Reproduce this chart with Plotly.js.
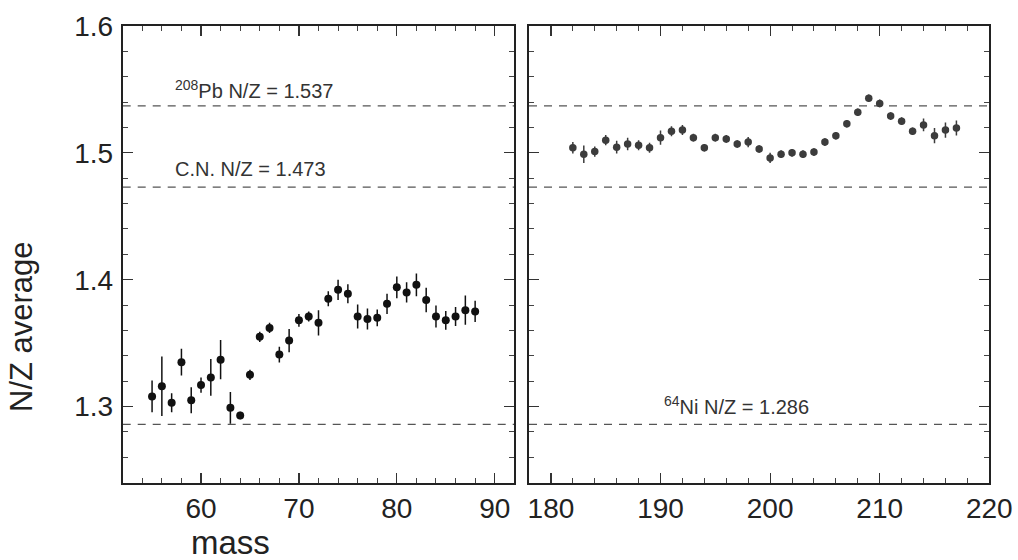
<!DOCTYPE html>
<html><head><meta charset="utf-8">
<script src="https://cdn.plot.ly/plotly-3.0.1.min.js"></script>
<style>html,body{margin:0;padding:0;background:#fff}#chart{width:1018px;height:560px}</style>
</head><body><div id="chart"></div><script>
// Light fragments (left panel)
const lightMass = [55,56,57,58,59,60,61,62,63,64,65,66,67,68,69,70,71,72,73,74,75,76,77,78,79,80,81,82,83,84,85,86,87,88];
const lightNZ = [1.308,1.316,1.303,1.335,1.305,1.317,1.323,1.337,1.299,1.293,1.325,1.355,1.362,1.341,1.352,1.368,1.371,1.366,1.385,1.392,1.389,1.371,1.369,1.370,1.381,1.394,1.390,1.396,1.384,1.371,1.368,1.371,1.376,1.375];
const lightErr = [0.0125,0.0235,0.0075,0.0105,0.0103,0.006,0.0145,0.0154,0.0125,0.003,0.004,0.004,0.004,0.0062,0.0092,0.005,0.004,0.010,0.006,0.008,0.0075,0.0094,0.0083,0.0066,0.008,0.0086,0.008,0.009,0.0096,0.0086,0.0074,0.0074,0.0115,0.0084];
// Heavy fragments (right panel)
const heavyMass = [182,183,184,185,186,187,188,189,190,191,192,193,194,195,196,197,198,199,200,201,202,203,204,205,206,207,208,209,210,211,212,213,214,215,216,217];
const heavyNZ = [1.504,1.499,1.501,1.510,1.5045,1.507,1.506,1.504,1.512,1.517,1.518,1.512,1.504,1.512,1.511,1.507,1.5085,1.503,1.496,1.499,1.500,1.499,1.5006,1.5085,1.5135,1.523,1.532,1.543,1.539,1.529,1.525,1.517,1.522,1.5135,1.518,1.5196];
const heavyErr = [0.0046,0.0069,0.004,0.004,0.005,0.005,0.004,0.004,0.0057,0.004,0.004,0.003,0.003,0.003,0.003,0.003,0.004,0.003,0.004,0.003,0.003,0.003,0.003,0.003,0.003,0.003,0.003,0.003,0.003,0.003,0.003,0.003,0.005,0.006,0.006,0.006];
// Reference N/Z values
const refValues = [1.537, 1.473, 1.286];
const refLabels = ['<sup>208</sup>Pb N/Z = 1.537', 'C.N. N/Z = 1.473', '<sup>64</sup>Ni N/Z = 1.286'];
const xTitle = 'mass';
const yTitle = 'N/Z average';

const FONT = '"Liberation Sans", Arial, sans-serif';

const traces = [
  {x: lightMass, y: lightNZ, type: 'scatter', mode: 'markers', xaxis: 'x', yaxis: 'y',
   marker: {color: '#111', size: 8},
   error_y: {type: 'data', array: lightErr, visible: true, width: 0, thickness: 1.5, color: '#111'},
   showlegend: false, hoverinfo: 'x+y'},
  {x: heavyMass, y: heavyNZ, type: 'scatter', mode: 'markers', xaxis: 'x2', yaxis: 'y2',
   marker: {color: '#3c3c3c', size: 7.5},
   error_y: {type: 'data', array: heavyErr, visible: true, width: 0, thickness: 1.5, color: '#3c3c3c'},
   showlegend: false, hoverinfo: 'x+y'}
];

function axisBase() {
  return {
    showline: true, linecolor: '#222', linewidth: 2, mirror: 'allticks',
    ticks: 'inside', ticklen: 10, tickwidth: 1.2, tickcolor: '#333',
    showgrid: false, zeroline: false,
    tickfont: {family: FONT, size: 28, color: '#222'}
  };
}

const yDom = [1 - 482.7/560, 1 - 26/560];
const layout = {
  width: 1018, height: 560,
  margin: {l: 0, r: 0, t: 0, b: 0, pad: 0},
  paper_bgcolor: '#fff', plot_bgcolor: '#fff',
  font: {family: FONT, color: '#222'},
  xaxis: Object.assign(axisBase(), {domain: [122.7/1018, 514.3/1018], range: [52, 92], dtick: 10, tick0: 0, anchor: 'y',
    minor: {dtick: 2, tick0: 0, ticks: 'inside', ticklen: 5, tickwidth: 1, tickcolor: '#444'}}),
  xaxis2: Object.assign(axisBase(), {domain: [529/1018, 989.3/1018], range: [178, 220], dtick: 10, tick0: 0, anchor: 'y2',
    minor: {dtick: 2, tick0: 0, ticks: 'inside', ticklen: 5, tickwidth: 1, tickcolor: '#444'}}),
  yaxis: Object.assign(axisBase(), {domain: yDom, range: [1.24, 1.6], dtick: 0.1, tick0: 0, tickformat: '.1f', anchor: 'x',
    ticklabelstandoff: 2,
    minor: {dtick: 0.02, tick0: 0, ticks: 'inside', ticklen: 5, tickwidth: 1, tickcolor: '#444'}}),
  yaxis2: Object.assign(axisBase(), {domain: yDom, range: [1.24, 1.6], dtick: 0.1, tick0: 0, anchor: 'x2', showticklabels: false,
    minor: {dtick: 0.02, tick0: 0, ticks: 'inside', ticklen: 5, tickwidth: 1, tickcolor: '#444'}}),
  shapes: [],
  annotations: []
};

['x', 'x2'].forEach(function (xa) {
  const ya = xa === 'x' ? 'y' : 'y2';
  refValues.forEach(function (v) {
    layout.shapes.push({type: 'line', xref: xa + ' domain', yref: ya, x0: 0, x1: 1, y0: v, y1: v,
      line: {color: '#555', width: 1.2, dash: '8px,7px'}, layer: 'below'});
  });
});

const labelPos = [
  {x: 173.3/1018, y: 1 - 90/560},
  {x: 173.3/1018, y: 1 - 169/560},
  {x: 661.7/1018, y: 1 - 405/560}
];
refLabels.forEach(function (t, i) {
  layout.annotations.push({text: t, xref: 'paper', yref: 'paper', x: labelPos[i].x, y: labelPos[i].y,
    xanchor: 'left', yanchor: 'middle', showarrow: false, font: {family: FONT, size: 20, color: '#333'}});
});
layout.annotations.push({text: yTitle, xref: 'paper', yref: 'paper', x: 21/1018, y: 1 - 327/560,
  xanchor: 'center', yanchor: 'middle', textangle: -90, showarrow: false, font: {family: FONT, size: 31, color: '#222'}});
layout.annotations.push({text: xTitle, xref: 'paper', yref: 'paper', x: 230/1018, y: 1 - 542/560,
  xanchor: 'center', yanchor: 'middle', showarrow: false, font: {family: FONT, size: 33, color: '#222'}});

Plotly.newPlot('chart', traces, layout, {displayModeBar: false, staticPlot: true});
</script></body></html>
